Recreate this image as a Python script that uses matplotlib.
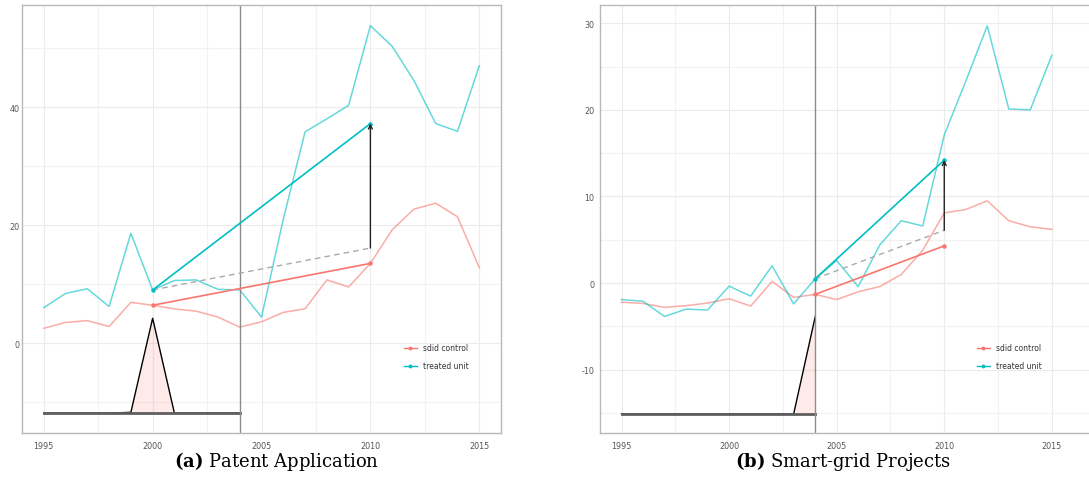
import numpy as np
import matplotlib.pyplot as plt
from matplotlib.lines import Line2D

plt.rcParams['mathtext.fontset'] = 'dejavuserif'
plt.rcParams['axes.unicode_minus'] = False

years = np.arange(1995, 2016)
treat_year = 2004

# (a) patent applications
treated_a = [6.0, 8.4, 9.2, 6.2, 18.6, 9.0, 10.6, 10.7, 9.1, 9.0, 4.4,
             21.0, 35.8, 38.0, 40.3, 53.8, 50.3, 44.5, 37.2, 35.9, 47.0]
control_a = [2.5, 3.5, 3.8, 2.8, 6.9, 6.4, 5.8, 5.4, 4.4, 2.7, 3.6,
             5.2, 5.8, 10.7, 9.5, 13.5, 19.2, 22.7, 23.7, 21.4, 12.8]
lambda_a = [0, 0, 0, 0, 0.01, 1.0, 0, 0, 0, 0]
pre_a, post_a = 2000, 2010
treat_pre_a, treat_post_a = 9.0, 37.2
ctrl_pre_a, ctrl_post_a = 6.4, 13.5

# (b) smart-grid projects
treated_b = [-1.9, -2.1, -3.85, -3.0, -3.1, -0.35, -1.5, 2.0, -2.4, 0.5, 2.6,
             -0.4, 4.4, 7.2, 6.6, 17.1, 23.3, 29.7, 20.1, 20.0, 26.3]
control_b = [-2.2, -2.35, -2.8, -2.6, -2.3, -1.8, -2.65, 0.2, -1.65, -1.3, -1.9,
             -1.0, -0.4, 1.0, 3.8, 8.1, 8.5, 9.5, 7.2, 6.5, 6.2]
lambda_b = [0, 0, 0, 0, 0, 0, 0, 0, 0, 1.0]
pre_b, post_b = 2004, 2010
treat_pre_b, treat_post_b = 0.5, 14.2
ctrl_pre_b, ctrl_post_b = -1.3, 4.3

RED = '#F8766D'
CYAN = '#00BFC4'


def sdid_panel(ax, treated, control, lam, lam_base, lam_height,
               pre, post, t_pre, t_post, c_pre, c_post,
               xlim, ylim, yticks, yminor, ypad):
    ax.set_xlim(*xlim)
    ax.set_ylim(*ylim)
    ax.set_xticks(np.arange(1995, 2016, 5))
    ax.set_xticks(np.arange(1997.5, 2016, 5), minor=True)
    ax.set_yticks(yticks)
    ax.set_yticks(yminor, minor=True)
    ax.grid(True, which='major', color='#ebebeb', lw=0.8)
    ax.grid(True, which='minor', color='#f2f2f2', lw=0.8)
    ax.set_axisbelow(True)
    for s in ax.spines.values():
        s.set_color('#b8b8b8')
        s.set_linewidth(1.0)
    ax.tick_params(which='both', length=0, labelsize=5.8, labelcolor='#555555')
    ax.tick_params(axis='y', pad=ypad)
    ax.tick_params(axis='x', pad=6)

    # raw trajectories
    ax.plot(years, control, color=RED, lw=1.1, alpha=0.6)
    ax.plot(years, treated, color=CYAN, lw=1.1, alpha=0.6)

    # time weights along the bottom
    pre_years = years[years <= treat_year]
    wline = lam_base + lam_height * np.array(lam)
    ax.fill_between(pre_years, lam_base, wline, color=RED, alpha=0.15, lw=0)
    ax.plot(pre_years, wline, color='black', lw=1.0)
    ax.plot(pre_years, np.full(len(pre_years), lam_base), color='#5f5f5f', lw=2.0)

    ax.axvline(treat_year, color='#8c8c8c', lw=1.0)

    # diff-in-diff segments
    gap = t_pre - c_pre
    ax.plot([pre, post], [t_pre, c_post + gap], color='#aaaaaa', lw=1.0, ls=(0, (4, 3)))
    ax.plot([pre, post], [c_pre, c_post], color=RED, lw=1.2, marker='o', ms=2.2)
    ax.plot([pre, post], [t_pre, t_post], color=CYAN, lw=1.2, marker='o', ms=2.2)
    ax.annotate('', xy=(post, t_post), xytext=(post, c_post + gap),
                arrowprops=dict(arrowstyle='->', color='#222222', lw=1.0,
                                mutation_scale=7, shrinkA=0, shrinkB=0))

    handles = [Line2D([], [], color=RED, lw=1.0, marker='o', ms=1.8),
               Line2D([], [], color=CYAN, lw=1.0, marker='o', ms=1.8)]
    return handles


fig = plt.figure(figsize=(10.89, 4.81), dpi=100)
ax_a = fig.add_axes([0.0202, 0.0977, 0.4399, 0.8898])
ax_b = fig.add_axes([0.551, 0.0977, 0.4518, 0.8898])

h = sdid_panel(ax_a, treated_a, control_a, lambda_a, -11.9, 16.1,
               pre_a, post_a, treat_pre_a, treat_post_a, ctrl_pre_a, ctrl_post_a,
               (1994, 2016), (-15.25, 57.3), [0, 20, 40], [-10, 10, 30, 50], 1.5)
ax_a.legend(h, ['sdid control', 'treated unit'], loc='center left',
            bbox_to_anchor=(0.789, 0.178), frameon=False, fontsize=5.5,
            handlelength=1.7, handletextpad=0.8, labelspacing=1.2, borderpad=0,
            labelcolor='#333333')

h = sdid_panel(ax_b, treated_b, control_b, lambda_b, -15.1, 11.2,
               pre_b, post_b, treat_pre_b, treat_post_b, ctrl_pre_b, ctrl_post_b,
               (1994, 2016.87), (-17.3, 32.1), [-10, 0, 10, 20, 30],
               [-15, -5, 5, 15, 25], 4)
ax_b.legend(h, ['sdid control', 'treated unit'], loc='center left',
            bbox_to_anchor=(0.758, 0.178), frameon=False, fontsize=5.5,
            handlelength=1.7, handletextpad=0.8, labelspacing=1.2, borderpad=0,
            labelcolor='#333333')

fig.text(0.254, 0.041, r'$\mathbf{(a)}$ Patent Application', ha='center', va='center',
         family='DejaVu Serif', fontsize=13)
fig.text(0.774, 0.041, r'$\mathbf{(b)}$ Smart-grid Projects', ha='center', va='center',
         family='DejaVu Serif', fontsize=13)

fig.savefig('out.png', dpi=100)
